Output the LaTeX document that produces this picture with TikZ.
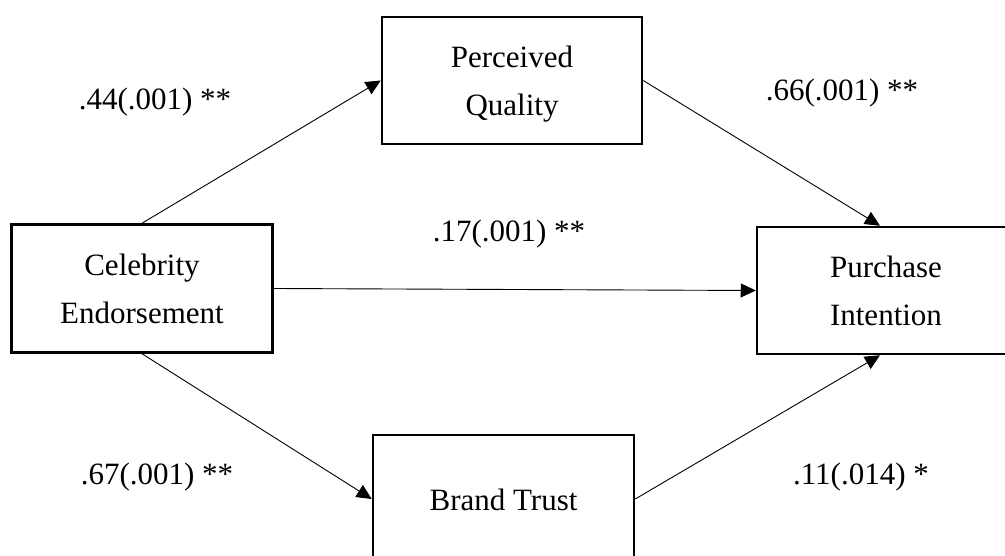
\documentclass[tikz,border=0pt]{standalone}
\usepackage{fontspec}
\setmainfont{Liberation Serif}
\usetikzlibrary{arrows.meta}
\begin{document}
\begin{tikzpicture}[x=1pt,y=-1pt,
  box/.style={draw, line width=2.5pt, inner sep=0pt, align=center,
    text height=70pt, text depth=0pt,
    font=\fontsize{31}{48}\selectfont},
  lbl/.style={inner sep=0pt, font=\fontsize{31}{38}\selectfont},
  conn/.style={line width=0.9pt, -{Triangle[length=15pt,width=14pt]}}]
\useasboundingbox (0,0) rectangle (1005,556);
\node[box, minimum width=261pt, minimum height=128pt] (CE) at (142,288.5) {Celebrity\\Endorsement};
\node[box, minimum width=260pt, minimum height=127pt] (PQ) at (512,80.5) {Perceived\\Quality};
\node[box, minimum width=258pt, minimum height=127pt] (PI) at (886,290.5) {Purchase\\Intention};
\node[box, minimum width=261pt, minimum height=128pt, text height=22pt] (BT) at (503.5,499) {Brand Trust};
\draw[conn] (CE.north) -- (PQ.west);
\draw[conn] (PQ.east) -- ([xshift=-6pt]PI.north);
\draw[conn] (CE.east) -- (PI.west);
\draw[conn] (CE.south) -- (BT.west);
\draw[conn] (BT.east) -- ([xshift=-6pt]PI.south);
\node[lbl] (l1) at (155,102) {.44(.001) **};
\node[lbl] (l2) at (842,93) {.66(.001) **};
\node[lbl] (l3) at (509,234) {.17(.001) **};
\node[lbl] (l4) at (157,477) {.67(.001) **};
\node[lbl] (l5) at (861,477) {.11(.014) *};
\end{tikzpicture}
\end{document}
